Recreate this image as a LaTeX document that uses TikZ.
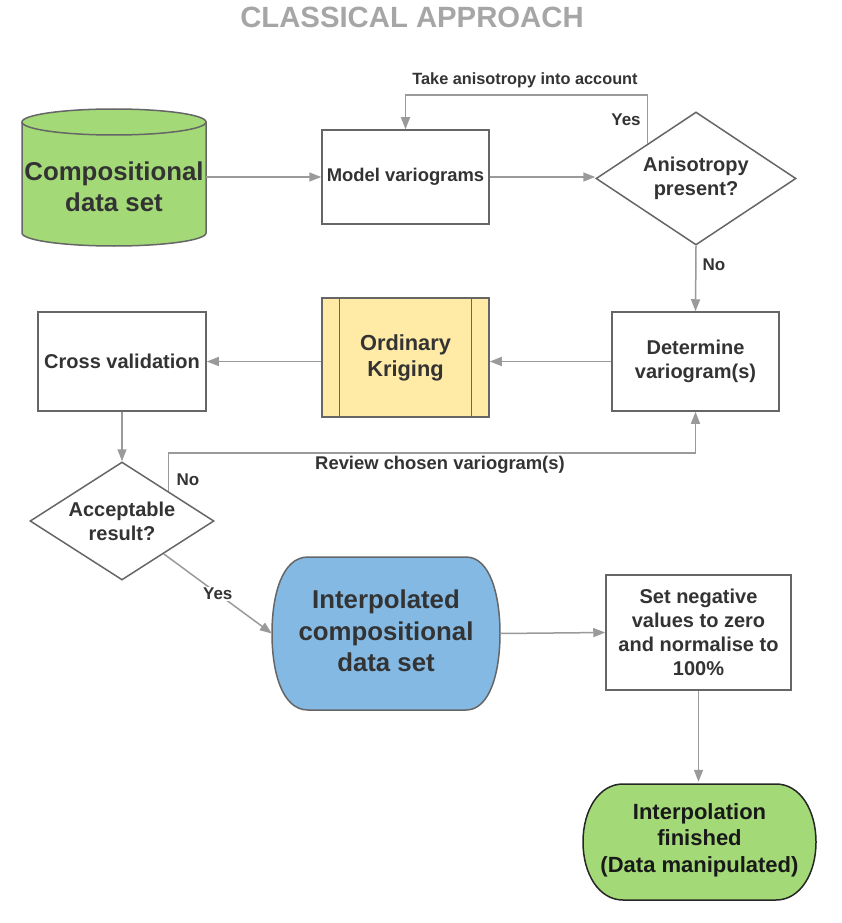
\documentclass[tikz,border=0pt]{standalone}
\usepackage{fontspec}
\setmainfont{Liberation Sans}
\usetikzlibrary{arrows.meta,shapes.geometric,calc}
\definecolor{edgegray}{HTML}{9A9A9A}
\definecolor{linegray}{HTML}{666666}
\definecolor{txtgray}{HTML}{333333}
\definecolor{titlegray}{HTML}{A6A6A6}
\definecolor{greenfill}{HTML}{A3D977}
\definecolor{bluefill}{HTML}{83B9E3}
\definecolor{yellowfill}{HTML}{FFEBA6}
\tikzset{
  box/.style={draw=linegray, line width=1.5pt, fill=white, text=txtgray,
    font=\bfseries\fontsize{20}{24}\selectfont, align=center, inner sep=0pt},
  decision/.style={diamond, draw=linegray, line width=1.5pt, fill=white, text=txtgray,
    font=\bfseries\fontsize{20}{24}\selectfont, align=center, inner sep=0pt, aspect=1.55},
  bigtext/.style={text=txtgray, font=\bfseries\fontsize{25.8}{31.5}\selectfont, align=center},
  flow/.style={draw=edgegray, line width=1.5pt, -{Triangle[length=12pt,width=9pt]}},
  lbl/.style={text=txtgray, font=\bfseries\fontsize{17}{20}\selectfont, inner sep=1pt},
}
\begin{document}
\begin{tikzpicture}[x=1pt,y=-1pt]
  \useasboundingbox (0,0) rectangle (841,923);
  \node[font=\bfseries\fontsize{29.3}{34}\selectfont, text=titlegray] (title) at (412,17) {CLASSICAL APPROACH};

  % data cylinder
  \fill[greenfill] (22,122) -- (22,233) arc[start angle=180, end angle=0, x radius=92, y radius=13]
    -- (206,122) arc[start angle=0, end angle=-180, x radius=92, y radius=13] -- cycle;
  \draw[linegray, line width=1.5pt] (22,122) -- (22,233) arc[start angle=180, end angle=0, x radius=92, y radius=13] -- (206,122);
  \draw[linegray, line width=1.5pt] (114,122) ellipse [x radius=92, y radius=13];
  \node[bigtext, minimum width=184, minimum height=137, inner sep=0pt] (data) at (114,187) {Compositional\\data set};

  \node[box, minimum width=167, minimum height=94, font=\bfseries\fontsize{18.4}{22}\selectfont] (model) at (405.5,177) {Model variograms};
  \node[decision, minimum width=200, minimum height=133] (aniso) at (696,178.5) {Anisotropy\\present?};
  \node[box, minimum width=167, minimum height=99] (determine) at (695.5,361.5) {Determine\\variogram(s)};
  \node[box, fill=yellowfill, minimum width=167, minimum height=119,
    font=\bfseries\fontsize{21.8}{26}\selectfont] (krig) at (405.5,357.5) {Ordinary\\Kriging};
  \foreach \dx in {18,150} {
    \draw[linegray, line width=1.5pt] ($(krig.north west)+(\dx,0)$) -- ($(krig.south west)+(\dx,0)$);
  }
  \node[box, minimum width=168, minimum height=99] (cross) at (122,361.5) {Cross validation};
  \node[decision, minimum width=184, minimum height=118] (accept) at (122,521) {Acceptable\\result?};

  % interpolated data set
  \draw[linegray, line width=1.5pt, fill=bluefill] (308,557) -- (466,557)
    .. controls (490,557) and (500,595) .. (500,633.5)
    .. controls (500,672) and (490,710) .. (466,710) -- (308,710)
    .. controls (282,710) and (272,672) .. (272,633.5)
    .. controls (272,595) and (282,557) .. (308,557) -- cycle;
  \node[bigtext, minimum width=228, minimum height=153, inner sep=0pt] (interp) at (386,631) {Interpolated\\compositional\\data set};

  \node[box, minimum width=185, minimum height=115] (setneg) at (698.5,632.5) {Set negative\\values to zero\\and normalise to\\100\%};

  % end
  \draw[black!85, line width=1.5pt, fill=greenfill] (623,784) -- (776,784)
    .. controls (800,784) and (816,810) .. (816,842)
    .. controls (816,874) and (800,900) .. (776,900) -- (623,900)
    .. controls (599,900) and (583,874) .. (583,842)
    .. controls (583,810) and (599,784) .. (623,784) -- cycle;
  \node[text=black!90, font=\bfseries\fontsize{22}{26.5}\selectfont, align=center,
    minimum width=233, minimum height=116, inner sep=0pt] (finish) at (699.5,840) {Interpolation\\finished\\(Data manipulated)};

  % connectors
  \draw[flow] (data.east |- model.west) -- (model.west);
  \draw[flow] (model.east) -- (model.east -| aniso.west);
  \coordinate (yesstart) at ($(aniso.north)!0.48!(aniso.west)$);
  \draw[flow] (yesstart) |- ($(model.north)+(0,-34)$) -- (model.north);
  \node[lbl, font=\bfseries\fontsize{16.3}{20}\selectfont] (take) at (525,80) {Take anisotropy into account};
  \node[lbl] (yes1) at (626,120) {Yes};
  \draw[flow] (aniso.south) -- (determine.north);
  \node[lbl] (no1) at (714,265) {No};
  \draw[flow] (determine.west) -- (krig.east |- determine.west);
  \draw[flow] (krig.west |- cross.east) -- (cross.east);
  \draw[flow] (cross.south) -- (accept.north);
  \coordinate (nostart) at ($(accept.north)!0.5!(accept.east)$);
  \draw[flow] (nostart) |- ($(determine.south)+(0,41)$) -- (determine.south);
  \node[lbl] (no2) at (188,480) {No};
  \node[lbl, font=\bfseries\fontsize{18.4}{22}\selectfont] (review) at (440,465) {Review chosen variogram(s)};
  \coordinate (yesacc) at ($(accept.east)!0.55!(accept.south)$);
  \draw[flow] (yesacc) -- (interp.west |- 0,633.5) node[lbl, fill=white, pos=0.5] (yes2) {Yes};
  \draw[flow] (interp.east |- 0,633.5) -- (setneg.west);
  \draw[flow] (setneg.south) -- (setneg.south |- finish.north);
\end{tikzpicture}
\end{document}
